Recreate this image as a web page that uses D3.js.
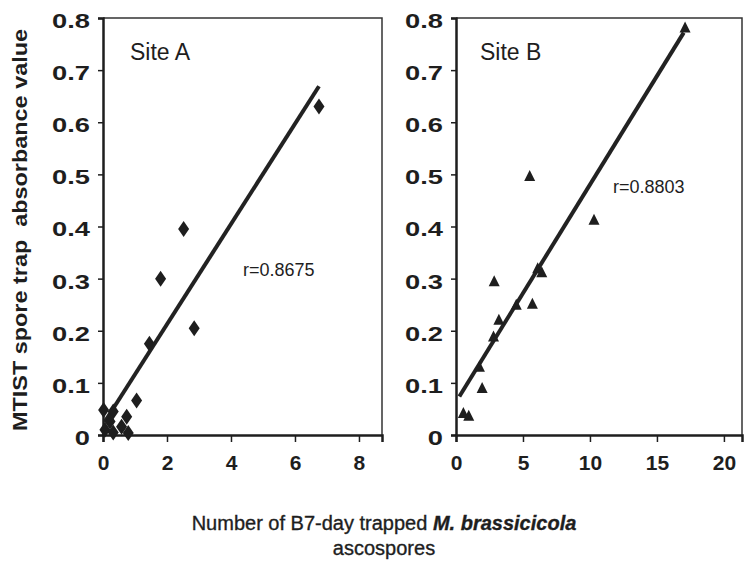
<!DOCTYPE html>
<html>
<head>
<meta charset="utf-8">
<script src="https://cdn.jsdelivr.net/npm/d3@7"></script>
<style>
  body { margin: 0; background: #fff; }
  svg text { font-family: "Liberation Sans", Arial, sans-serif; fill: #1e1e1e; }
</style>
</head>
<body>
<svg id="chart" width="744" height="565"></svg>
<script>
// Site A (diamonds)
const siteAx = [6.75, 2.52, 1.80, 2.85, 1.45, 1.05, 0.74, 0.02, 0.32, 0.22, 0.58, 0.79, 0.06, 0.32];
const siteAy = [0.630, 0.395, 0.300, 0.205, 0.175, 0.066, 0.035, 0.048, 0.045, 0.026, 0.016, 0.004, 0.010, 0.005];
const fitA = [[0.05, 0.025], [6.75, 0.669]];   // regression line ends
const rA = "r=0.8675";

// Site B (triangles)
const siteBx = [17.1, 5.5, 10.3, 6.1, 6.4, 2.85, 5.7, 4.5, 3.2, 2.8, 1.75, 1.95, 0.55, 0.95];
const siteBy = [0.782, 0.497, 0.413, 0.320, 0.312, 0.295, 0.252, 0.250, 0.221, 0.189, 0.131, 0.090, 0.042, 0.037];
const fitB = [[0.25, 0.074], [17.0, 0.772]];
const rB = "r=0.8803";

const yTicks = [0, 0.1, 0.2, 0.3, 0.4, 0.5, 0.6, 0.7, 0.8];
const xTicksA = [0, 2, 4, 6, 8];
const xTicksB = [0, 5, 10, 15, 20];

const svg = d3.select("#chart");
const ink = "#1e1e1e";

function drawPanel(opt) {
    const x = d3.scaleLinear().domain(opt.xDomain).range([opt.left, opt.right]);
    const y = d3.scaleLinear().domain([0, 0.8]).range([435, 18]);
    const g = svg.append("g");

    // frame top/right
    g.append("path")
        .attr("d", `M${opt.left},${y(0.8)}H${opt.right}V${y(0)}`)
        .attr("fill", "none").attr("stroke", "#333").attr("stroke-width", 1.5);

    // y axis
    const yAxis = g.append("g")
        .attr("transform", `translate(${opt.left},0)`)
        .call(d3.axisLeft(y).tickValues(yTicks).tickSize(5).tickPadding(10)
            .tickFormat(d => d === 0 ? "0" : d3.format(".1f")(d)));
    yAxis.select(".domain").attr("stroke", ink).attr("stroke-width", 2.5);
    yAxis.selectAll(".tick line").attr("stroke", ink).attr("stroke-width", 1.5);
    yAxis.selectAll(".tick text")
        .attr("font-size", 21).attr("font-weight", "bold").attr("fill", ink)
        .attr("dy", "0.45em")
        .attr("transform", "scale(1.3,1)")
        .attr("x", -13 / 1.3);

    // x axis
    const xAxis = g.append("g")
        .attr("transform", `translate(0,${y(0)})`)
        .call(d3.axisBottom(x).tickValues(opt.xTicks).tickSize(7).tickPadding(13));
    xAxis.select(".domain").attr("stroke", ink).attr("stroke-width", 2.5);
    xAxis.selectAll(".tick line").attr("stroke", ink).attr("stroke-width", 1.5);
    xAxis.selectAll(".tick text")
        .attr("font-size", 21).attr("font-weight", "bold").attr("fill", ink);

    // regression line
    g.append("line")
        .attr("x1", x(opt.fit[0][0])).attr("y1", y(opt.fit[0][1]))
        .attr("x2", x(opt.fit[1][0])).attr("y2", y(opt.fit[1][1]))
        .attr("stroke", "#222").attr("stroke-width", 4);

    // points
    const pts = opt.xs.map((v, i) => [v, opt.ys[i]]);
    g.selectAll("path.pt")
        .data(pts)
        .join("path")
        .attr("class", "pt")
        .attr("d", opt.shape)
        .attr("transform", d => `translate(${x(d[0])},${y(d[1])})`)
        .attr("fill", ink);

    g.append("text")
        .attr("x", opt.siteX).attr("y", 60)
        .attr("font-size", 23)
        .text(opt.site);

    g.append("text")
        .attr("x", opt.rX).attr("y", opt.rY)
        .attr("font-size", 18)
        .text(opt.r);
}

const diamond = "M0,-8L5.5,0L0,8L-5.5,0Z";
const triangle = "M0,-6L5.5,5L-5.5,5Z";

drawPanel({
    xs: siteAx, ys: siteAy, fit: fitA, r: rA, site: "Site A",
    xDomain: [0, 8.72], xTicks: xTicksA, left: 103, right: 382,
    shape: diamond, siteX: 130, rX: 243, rY: 276
});
drawPanel({
    xs: siteBx, ys: siteBy, fit: fitB, r: rB, site: "Site B",
    xDomain: [0, 21.35], xTicks: xTicksB, left: 456, right: 742,
    shape: triangle, siteX: 480, rX: 613, rY: 193
});

// y axis title
svg.append("text")
    .attr("transform", "translate(27,230) rotate(-90)")
    .attr("text-anchor", "middle")
    .attr("font-size", 21).attr("font-weight", "bold")
    .attr("textLength", 402).attr("lengthAdjust", "spacingAndGlyphs")
    .style("white-space", "pre")
    .text("MTIST spore trap  absorbance value");

// x axis title
const xt = svg.append("text")
    .attr("x", 384).attr("y", 530)
    .attr("text-anchor", "middle")
    .attr("font-size", 20)
    .attr("stroke", ink).attr("stroke-width", 0.35);
xt.append("tspan").text("Number of B7-day trapped ");
xt.append("tspan").attr("font-style", "italic").attr("font-weight", "bold").text("M. brassicicola");
svg.append("text")
    .attr("x", 384).attr("y", 555)
    .attr("text-anchor", "middle")
    .attr("font-size", 20)
    .attr("stroke", ink).attr("stroke-width", 0.35)
    .text("ascospores");
</script>
</body>
</html>
